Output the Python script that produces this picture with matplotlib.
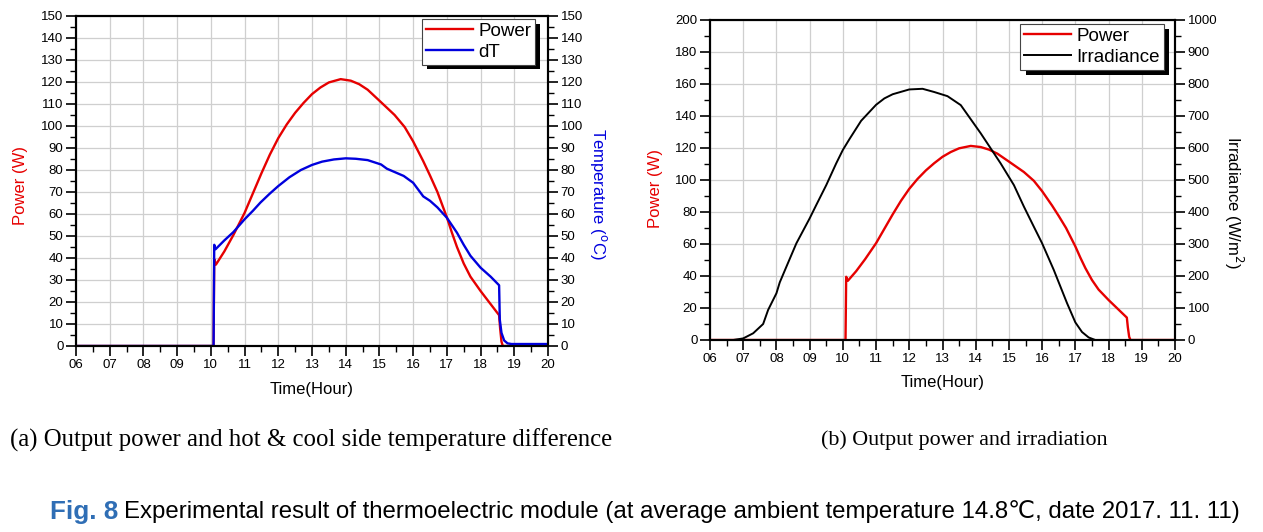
import matplotlib
matplotlib.use('Agg')
import matplotlib.pyplot as plt
from matplotlib.ticker import MultipleLocator
from matplotlib.patches import Rectangle

plt.rcParams['font.family'] = ['Liberation Sans', 'DejaVu Sans']

# output power (W) vs time of day, same measurement in both panels
pw_hour = [6.0, 10.08, 10.1, 10.15, 10.4, 10.67, 11.0, 11.25, 11.5, 11.75, 12.0, 12.25, 12.5,
           12.75, 13.0, 13.25, 13.5, 13.85, 14.15, 14.4, 14.65, 15.0, 15.45, 15.75, 16.0,
           16.3, 16.5, 16.72, 17.0, 17.15, 17.3, 17.5, 17.7, 18.0, 18.3, 18.55, 18.58,
           18.62, 18.66, 20.0]
pw_watt = [0, 0, 39.5, 37, 43, 50.5, 60.5, 69.5, 78.5, 87, 94.5, 100.7, 106,
           110.5, 114.5, 117.5, 119.8, 121.3, 120.6, 119, 116.5, 111.5, 105, 99.5, 93,
           84, 77.5, 70, 58.5, 51.5, 45, 37.5, 31.5, 25, 19, 14, 8,
           2, 0, 0]

# hot/cool side temperature difference (C)
dt_hour = [6.0, 10.08, 10.1, 10.14, 10.4, 10.67, 11.0, 11.25, 11.47, 11.75, 12.0, 12.33,
           12.67, 13.0, 13.3, 13.65, 14.0, 14.3, 14.65, 15.05, 15.22, 15.72, 16.0, 16.3,
           16.5, 16.72, 17.0, 17.3, 17.5, 17.7, 18.0, 18.3, 18.55, 18.57, 18.62, 18.7,
           18.8, 18.92, 20.0]
dt_temp = [0, 0, 46, 44, 48, 51.8, 57.6, 61.5, 65.2, 69.3, 72.7, 76.7,
           80, 82.3, 83.8, 84.8, 85.3, 85.1, 84.5, 82.5, 80.6, 77.3, 74.2, 68,
           66, 63, 58.3, 51.5, 46, 41, 35.6, 31.5, 27.6, 12, 6, 2.5,
           1.2, 0.9, 0.9]

# irradiance (W/m2)
ir_hour = [6.0, 6.7, 7.0, 7.3, 7.6, 7.75, 8.0, 8.1, 8.3, 8.6, 9.0, 9.2, 9.5, 9.8, 10.0,
           10.2, 10.55, 11.0, 11.25, 11.5, 12.0, 12.4, 12.75, 13.15, 13.55, 13.85, 14.15,
           14.45, 14.75, 15.15, 15.45, 15.75, 16.0, 16.35, 16.75, 17.0, 17.2, 17.4, 17.6, 20.0]
ir_wm2 = [0, 0, 5, 21, 50, 94, 146, 180, 229, 302, 380, 422, 484, 552, 594,
          628, 685, 735, 755, 768, 783, 785, 775, 762, 734, 690, 646,
          599, 552, 484, 417, 354, 302, 219, 115, 55, 25, 8, 0, 0]

hour_ticks = list(range(6, 21))
hour_labels = ['%02d' % h for h in hour_ticks]

cap_a = '(a) Output power and hot & cool side temperature difference'
cap_b = '(b) Output power and irradiation'
fig_no = 'Fig. 8'
fig_cap = 'Experimental result of thermoelectric module (at average ambient temperature 14.8\u2103, date 2017. 11. 11)'

RED = '#e60000'
BLUE = '#0000dd'

fig = plt.figure(figsize=(12.63, 5.32), dpi=100)
axa = fig.add_axes([76 / 1263, 1 - 346 / 532, 472 / 1263, 330 / 532])
axb = fig.add_axes([710 / 1263, 1 - 340 / 532, 465 / 1263, 320 / 532])


def style(ax, right=False):
    for s in ax.spines.values():
        s.set_linewidth(1.5)
    ax.tick_params(which='major', direction='out', length=7, width=1.2, labelsize=9.5, pad=2)
    ax.tick_params(which='minor', direction='out', length=4, width=1.0)
    if right:
        ax.tick_params(which='both', left=False, right=True, labelright=True, labelleft=False)
    else:
        ax.tick_params(which='both', top=False, right=False)


def hours(ax):
    ax.set_xlim(6, 20)
    ax.set_xticks(hour_ticks)
    ax.set_xticklabels(hour_labels)
    ax.xaxis.set_minor_locator(MultipleLocator(0.5))
    ax.grid(True, which='major', color='#cfcfcf', linewidth=0.9)
    ax.set_axisbelow(True)
    ax.set_xlabel('Time(Hour)', fontsize=12, va='center')
    ax.xaxis.set_label_coords(0.5, -0.133)


def shadow_legend(ax, handles, anchor):
    leg = ax.legend(handles, [h.get_label() for h in handles], loc='upper right',
                    bbox_to_anchor=anchor, borderaxespad=0, fontsize=13.5,
                    handlelength=2.5, handletextpad=0.3, labelspacing=0.2,
                    borderpad=0.2, fancybox=False, framealpha=1, edgecolor='#444444')
    leg.get_frame().set_linewidth(0.8)
    leg.set_zorder(6)
    return leg


# ---- panel (a)
axa.plot(pw_hour, pw_watt, color=RED, lw=1.7, label='Power')
axa.set_ylim(0, 150)
axa.yaxis.set_major_locator(MultipleLocator(10))
axa.yaxis.set_minor_locator(MultipleLocator(5))
hours(axa)
style(axa)
axa.set_ylabel('Power (W)', color=RED, fontsize=12, va='center')
axa.yaxis.set_label_coords(-0.118, 0.485)

ta = axa.twinx()
ta.plot(dt_hour, dt_temp, color=BLUE, lw=1.7, label='dT')
ta.set_ylim(0, 150)
ta.yaxis.set_major_locator(MultipleLocator(10))
ta.yaxis.set_minor_locator(MultipleLocator(5))
style(ta, right=True)
ta.set_ylabel(r'Temperature ($^{\mathrm{o}}$C)', color=BLUE, fontsize=12, rotation=270, va='center')
ta.yaxis.set_label_coords(1.106, 0.46)
leg_a = shadow_legend(ta, axa.get_lines() + ta.get_lines(), ((535 - 76) / 472, (346 - 19) / 330))

# ---- panel (b)
axb.plot(pw_hour, pw_watt, color=RED, lw=1.7, label='Power')
axb.set_ylim(0, 200)
axb.yaxis.set_major_locator(MultipleLocator(20))
axb.yaxis.set_minor_locator(MultipleLocator(10))
hours(axb)
style(axb)
axb.set_ylabel('Power (W)', color=RED, fontsize=12, va='center')
axb.yaxis.set_label_coords(-0.118, 0.475)

tb = axb.twinx()
tb.plot(ir_hour, ir_wm2, color='black', lw=1.4, label='Irradiance')
tb.set_ylim(0, 1000)
tb.yaxis.set_major_locator(MultipleLocator(100))
tb.yaxis.set_minor_locator(MultipleLocator(50))
style(tb, right=True)
tb.set_ylabel(r'Irradiance (W/m$^{2}$)', color='black', fontsize=12, rotation=270, va='center')
tb.yaxis.set_label_coords(1.125, 0.43)
leg_b = shadow_legend(tb, axb.get_lines() + tb.get_lines(), ((1164 - 710) / 465, (340 - 24) / 320))

# ---- captions
ta_txt = fig.text(311 / 1263, 1 - 440 / 532, cap_a, family='Liberation Serif', fontsize=16,
                  ha='center', va='center')
tb_txt = fig.text(964 / 1263, 1 - 440 / 532, cap_b, family='Liberation Serif', fontsize=16,
                  ha='center', va='center')
no_txt = fig.text(50 / 1263, 1 - 512 / 532, fig_no, family=['Liberation Sans', 'DejaVu Sans'],
                  fontsize=18, weight='bold', color='#2f6eb5', ha='left', va='center')
cap_txt = fig.text(124 / 1263, 1 - 512 / 532, fig_cap, family=['Liberation Sans', 'DejaVu Sans'],
                   fontsize=17, ha='left', va='center')

fig.canvas.draw()
r = fig.canvas.get_renderer()
for t, w in [(ta_txt, 602), (tb_txt, 288), (no_txt, 68), (cap_txt, 1121)]:
    cur = t.get_window_extent(r).width
    t.set_fontsize(t.get_fontsize() * w / cur)

# black drop shadows under the legends
for ax, leg in [(ta, leg_a), (tb, leg_b)]:
    bb = leg.get_window_extent(r)
    inv = ax.transAxes.inverted()
    (x0, y0), (x1, y1) = inv.transform([(bb.x0 + 5, bb.y0 - 5), (bb.x1 + 5, bb.y1 - 5)])
    ax.add_patch(Rectangle((x0, y0), x1 - x0, y1 - y0, transform=ax.transAxes,
                           facecolor='black', edgecolor='none', zorder=5.5, clip_on=False))

fig.savefig('out.png', dpi=100)
